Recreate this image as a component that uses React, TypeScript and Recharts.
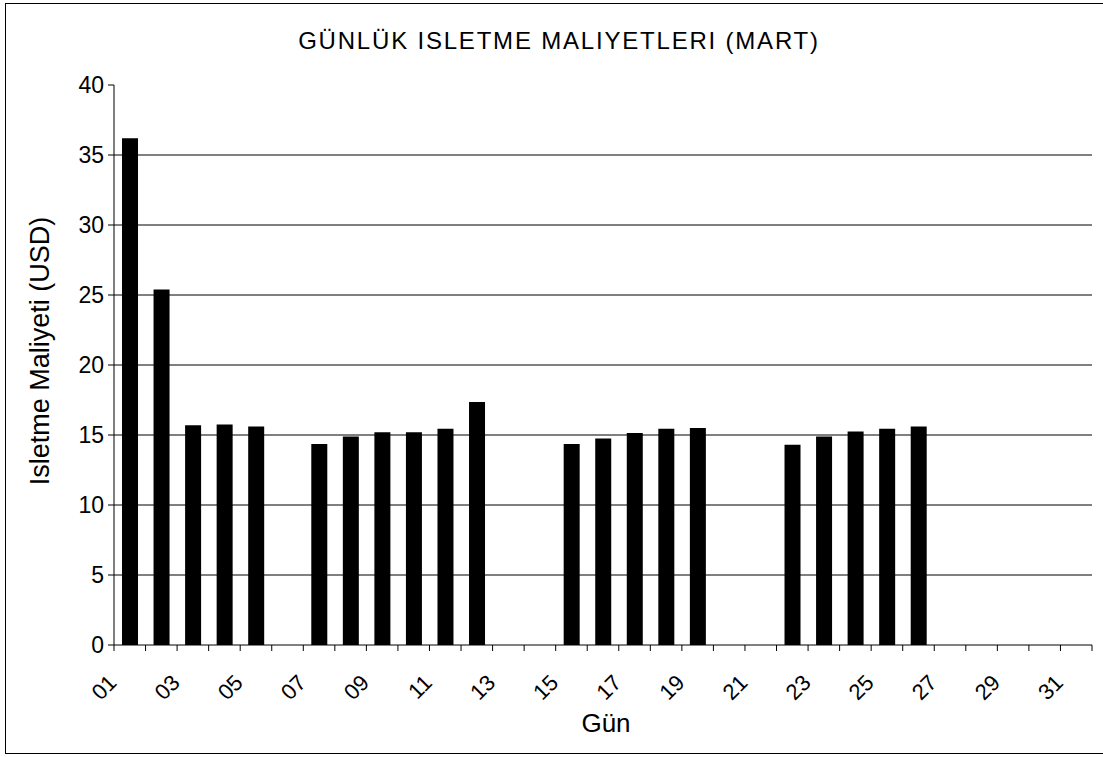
import React from 'react';
import { BarChart, Bar, XAxis, YAxis, CartesianGrid } from 'recharts';

// March, day of month
const days = [1, 2, 3, 4, 5, 6, 7, 8, 9, 10, 11, 12, 13, 14, 15, 16, 17, 18, 19, 20, 21, 22, 23, 24, 25, 26, 27, 28, 29, 30, 31];
const dayLabels = ['01', '02', '03', '04', '05', '06', '07', '08', '09', '10', '11', '12', '13', '14', '15', '16', '17', '18', '19', '20', '21', '22', '23', '24', '25', '26', '27', '28', '29', '30', '31'];
// daily operating cost (USD), null = no entry
const costs = [36.2, 25.4, 15.7, 15.75, 15.6, null, 14.35, 14.9, 15.2, 15.2, 15.45, 17.35, null, null, 14.35, 14.75, 15.15, 15.45, 15.5, null, null, 14.3, 14.9, 15.25, 15.45, 15.6, null, null, null, null, null];
const yTicks = [0, 5, 10, 15, 20, 25, 30, 35, 40];
const gridValues = [5, 10, 15, 20, 25, 30, 35];

const data = days.map((d, i) => ({ day: d, cost: costs[i] }));
// ticks sit on the category boundaries, like the old Excel chart
const xTicks = [...days.map((d) => d - 0.5), days[days.length - 1] + 0.5];

const font = '"Liberation Sans", Arial, sans-serif';

const DayTick = (props: any) => {
    const { x, y, payload } = props;
    const idx = payload.value + 0.5 - 1;
    if (idx >= days.length || idx % 2 !== 0) return null;
    return (
        <g transform={`translate(${x + 4},${y + 31})`}>
            <text x={0} y={0} textAnchor="end" transform="rotate(-45)" fill="#000" fontSize={22} fontFamily={font}>
                {dayLabels[idx]}
            </text>
        </g>
    );
};

export default function App() {
    return (
        <div style={{ position: 'absolute', left: 0, top: 0, width: 1103, height: 757, background: '#fff', fontFamily: font }}>
            <div style={{ position: 'absolute', left: 5, top: 3, width: 1110, height: 749, border: '1px solid #000' }} />
            <div style={{ position: 'absolute', left: 0, width: 1118, top: 27, textAlign: 'center', fontSize: 24, letterSpacing: 1.8, color: '#000' }}>
                GÜNLÜK ISLETME MALIYETLERI (MART)
            </div>
            <div
                style={{
                    position: 'absolute',
                    left: 40,
                    top: 351,
                    transform: 'translate(-50%, -50%) rotate(-90deg)',
                    whiteSpace: 'nowrap',
                    fontSize: 27,
                    color: '#000',
                }}
            >
                Isletme Maliyeti (USD)
            </div>
            <div style={{ position: 'absolute', left: 606, top: 708, transform: 'translateX(-50%)', fontSize: 26, color: '#000' }}>
                Gün
            </div>
            <BarChart width={1103} height={757} data={data} margin={{ top: 85, right: 11, left: 0, bottom: 0 }}>
                <CartesianGrid horizontal vertical={false} horizontalValues={gridValues} stroke="#000" />
                <XAxis
                    dataKey="day"
                    type="number"
                    domain={[0.5, 31.5]}
                    ticks={xTicks}
                    interval={0}
                    height={112}
                    stroke="#000"
                    tickSize={6}
                    tick={<DayTick />}
                />
                <YAxis
                    domain={[0, 40]}
                    ticks={yTicks}
                    width={114}
                    stroke="#000"
                    tickSize={6}
                    tickMargin={4}
                    tick={{ fill: '#000', fontSize: 23, fontFamily: font }}
                />
                <Bar dataKey="cost" fill="#000" barSize={16} isAnimationActive={false} />
            </BarChart>
        </div>
    );
}
